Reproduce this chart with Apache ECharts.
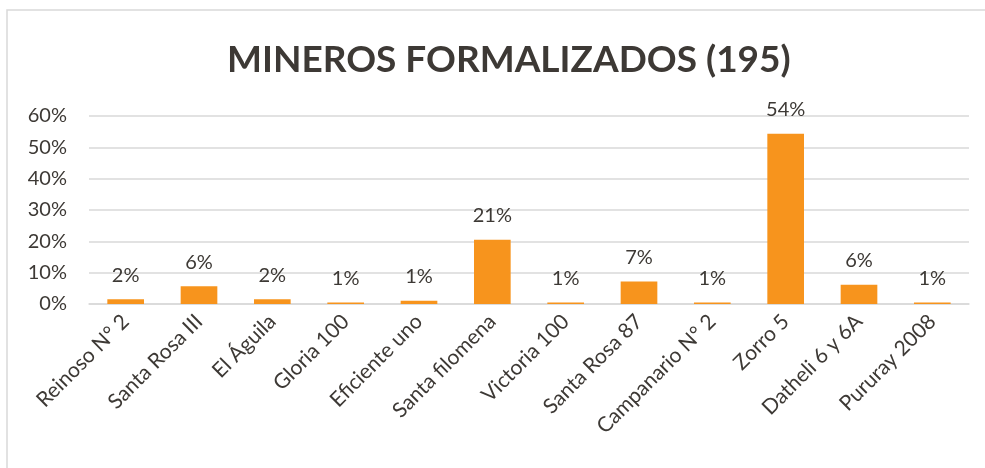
<!DOCTYPE html>
<html>
<head>
<meta charset="utf-8">
<script src="https://cdn.jsdelivr.net/npm/echarts@6/dist/echarts.min.js"></script>
<style>
  html, body { margin: 0; padding: 0; background: #fff; }
  #chart { width: 985px; height: 468px; }
</style>
</head>
<body>
<div id="chart"></div>
<script>
// minas / concesiones
var categories = ['Reinoso N° 2', 'Santa Rosa III', 'El Águila', 'Gloria 100', 'Eficiente uno',
  'Santa filomena', 'Victoria 100', 'Santa Rosa 87', 'Campanario N° 2', 'Zorro 5',
  'Datheli 6 y 6A', 'Pururay 2008'];
// porcentaje de mineros formalizados (total 195)
var shares = [0.0154, 0.0564, 0.0154, 0.0051, 0.0103, 0.2051, 0.0051, 0.0718, 0.0051, 0.5436, 0.0615, 0.0051];
var yTicks = [0, 0.1, 0.2, 0.3, 0.4, 0.5, 0.6];

var txt = '#3d3935';
var font = 'Lato';

var myChart = echarts.init(document.getElementById('chart'));

var option = {
  animation: false,
  title: {
    text: 'MINEROS FORMALIZADOS (195)',
    left: 222,
    top: 37,
    textStyle: { fontFamily: font, fontWeight: 'bold', fontSize: 37, color: txt }
  },
  graphic: [{
    type: 'rect',
    shape: { x: 7, y: 10, width: 1000, height: 500 },
    style: { fill: 'none', stroke: '#d9d9d9', lineWidth: 1.5 }
  }],
  grid: { left: 89, right: 16, top: 116, bottom: 164 },
  xAxis: {
    type: 'category',
    data: categories,
    axisTick: { show: false },
    axisLine: { lineStyle: { color: '#d9d9d9', width: 1.5 } },
    axisLabel: {
      rotate: 45, interval: 0, margin: 14,
      fontFamily: font, fontSize: 21, color: txt
    }
  },
  yAxis: {
    type: 'value',
    min: yTicks[0],
    max: yTicks[yTicks.length - 1],
    interval: 0.1,
    axisLine: { show: false },
    axisTick: { show: false },
    splitLine: { lineStyle: { color: '#d9d9d9', width: 1.5 } },
    axisLabel: {
      margin: 22,
      fontFamily: font, fontSize: 20, color: txt,
      formatter: function (v) { return Math.round(v * 100) + '%'; }
    }
  },
  series: [{
    type: 'bar',
    data: shares,
    barWidth: '50%',
    itemStyle: { color: '#f7941d' },
    label: {
      show: true,
      position: 'top',
      distance: 14,
      fontFamily: font, fontSize: 20, color: txt,
      formatter: function (p) { return Math.round(p.value * 100) + '%'; }
    }
  }]
};

myChart.setOption(option);
</script>
</body>
</html>
